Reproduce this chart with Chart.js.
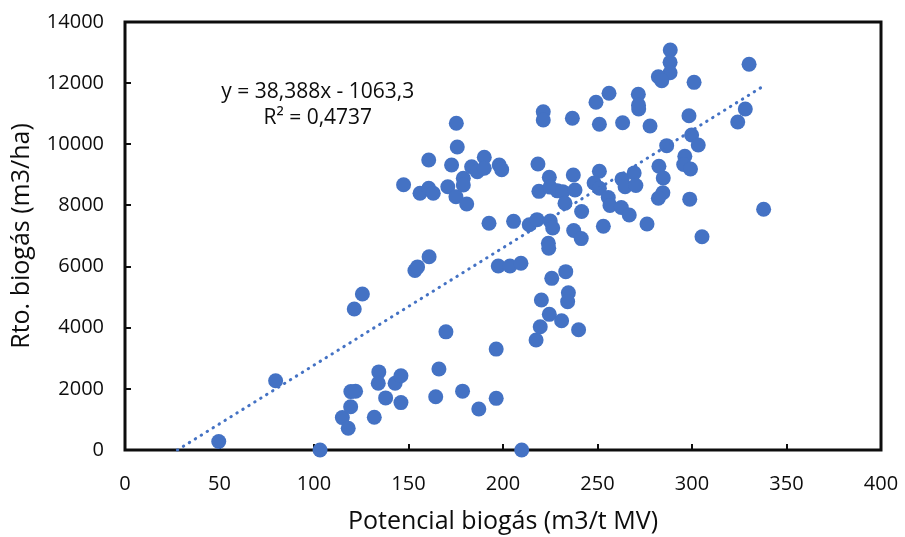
<!DOCTYPE html>
<html>
<head>
<meta charset="utf-8">
<script src="https://cdn.jsdelivr.net/npm/chart.js@4/dist/chart.umd.min.js"></script>
<style>
  html, body { margin: 0; padding: 0; background: #fff; }
  #wrap { width: 905px; height: 537px; }
</style>
</head>
<body>
<div id="wrap"><canvas id="c" width="905" height="537"></canvas></div>
<script>
// Potencial biogás (m3/t MV)
const potencialBiogas = [
  49.6, 79.7, 103.2, 209.9, 121.3, 125.6, 115.0, 118.1, 119.4, 119.5,
  122.0, 131.9, 134.3, 134.0, 137.9, 142.9, 146.0, 146.0, 164.4, 166.1,
  169.8, 178.6, 187.2, 196.4, 196.4, 153.4, 154.8, 160.9, 197.5, 203.7,
  209.5, 217.5, 219.7, 220.3, 224.5, 231.0, 233.2, 225.8, 234.6, 234.2,
  240.0, 224.0, 224.2, 237.4, 241.4, 253.1, 175.3, 175.8, 160.7, 172.8,
  147.4, 156.1, 160.7, 163.1, 170.8, 175.1, 180.8, 179.0, 179.0, 183.4,
  186.4, 190.1, 190.1, 198.0, 199.3, 192.6, 205.6, 213.9, 218.0, 221.3,
  221.3, 236.7, 218.5, 224.5, 237.2, 219.0, 224.9, 228.8, 231.6, 232.8,
  238.1, 225.0, 226.3, 241.6, 288.5, 288.4, 288.4, 282.2, 284.0, 301.1,
  330.2, 256.1, 249.2, 271.6, 271.8, 251.0, 263.3, 277.8, 298.4, 328.2,
  324.2, 299.8, 303.3, 286.6, 296.2, 295.6, 299.2, 282.5, 284.8, 284.6,
  282.2, 298.8, 251.0, 248.2, 251.0, 263.0, 269.4, 264.6, 270.3, 255.7,
  256.6, 262.6, 266.8, 276.2, 305.3, 337.9, 271.7
];

// Rto. biogás (m3/ha)
const rtoBiogas = [
  280, 2265, 0, 0, 4612, 5104, 1060, 710, 1415, 1910,
  1920, 1070, 2555, 2185, 1705, 2185, 2430, 1550, 1740, 2650,
  3865, 1925, 1341, 3300, 1690, 5870, 5990, 6320, 6018, 6018,
  6107, 3598, 4033, 4907, 4438, 4230, 5833, 5615, 5146, 4852,
  3935, 6760, 6597, 7180, 6915, 7320, 10686, 9911, 9486, 9322,
  8678, 8397, 8560, 8397, 8613, 8286, 8047, 8887, 8668, 9267,
  9103, 9575, 9214, 9322, 9170, 7415, 7480, 7370, 7535, 11066,
  10794, 10850, 9355, 8920, 8995, 8460, 8600, 8477, 8450, 8070,
  8505, 7490, 7262, 7800, 13084, 12681, 12342, 12211, 12080, 12026,
  12616, 11668, 11373, 11635, 11154, 10654, 10706, 10598, 10935, 11154,
  10729, 10304, 9977, 9955, 9610, 9340, 9190, 9280, 8897, 8416,
  8233, 8205, 9120, 8734, 8560, 8860, 9060, 8613, 8650, 8260,
  8000, 7930, 7687, 7393, 6977, 7873, 11280
];

// Linear trend: y = 38,388x - 1063,3  (R² = 0,4737)
const trendSlope = 38.388;
const trendIntercept = -1063.3;
const trendLabels = ['y = 38,388x - 1063,3', 'R\u00B2 = 0,4737'];

const xTickValues = [0, 50, 100, 150, 200, 250, 300, 350, 400];
const yTickValues = [0, 2000, 4000, 6000, 8000, 10000, 12000, 14000];

const points = potencialBiogas.map((x, i) => ({ x: x, y: rtoBiogas[i] }));
const trendStartX = -trendIntercept / trendSlope;
const trendEndX = Math.max(...potencialBiogas);
const trendPoints = [trendStartX, trendEndX].map(x => ({ x: x, y: trendSlope * x + trendIntercept }));

const FONT = "'Open Sans', 'Noto Sans', sans-serif";
const BLUE = '#4472C4';
const INK = '#0d0d0d';

// Plot frame with inward tick marks, drawn beneath the markers
const framePlugin = {
  id: 'frame',
  beforeDatasetsDraw(chart) {
    const { ctx, chartArea: a, scales: { x, y } } = chart;
    ctx.save();
    ctx.strokeStyle = INK;
    ctx.lineWidth = 2;
    ctx.beginPath();
    xTickValues.forEach(v => {
      const px = Math.round(x.getPixelForValue(v));
      ctx.moveTo(px, a.bottom);
      ctx.lineTo(px, a.bottom - 6);
    });
    yTickValues.forEach(v => {
      const py = Math.round(y.getPixelForValue(v));
      ctx.moveTo(a.left, py);
      ctx.lineTo(a.left + 6, py);
    });
    ctx.stroke();
    ctx.lineWidth = 3;
    ctx.strokeRect(a.left, a.top, a.right - a.left, a.bottom - a.top);
    ctx.restore();
  }
};

// Trend-line equation and R² text
const equationPlugin = {
  id: 'equation',
  afterDatasetsDraw(chart) {
    const { ctx, scales: { x, y } } = chart;
    const cx = x.getPixelForValue(102);
    ctx.save();
    ctx.fillStyle = INK;
    ctx.font = "21px " + FONT;
    ctx.textAlign = 'center';
    ctx.textBaseline = 'middle';
    ctx.fillText(trendLabels[0], cx, y.getPixelForValue(11700));
    ctx.fillText(trendLabels[1], cx, y.getPixelForValue(10850));
    ctx.restore();
  }
};

const plainNumber = v => String(v);

new Chart(document.getElementById('c'), {
  type: 'scatter',
  data: {
    datasets: [
      {
        type: 'line',
        data: trendPoints,
        borderColor: BLUE,
        borderWidth: 3,
        borderDash: [0.5, 6.5],
        borderCapStyle: 'round',
        pointRadius: 0,
        fill: false,
        clip: false,
        order: 0
      },
      {
        data: points,
        backgroundColor: BLUE,
        borderColor: BLUE,
        borderWidth: 0,
        pointRadius: 7.5,
        pointHoverRadius: 7.5,
        clip: false,
        order: 1
      }
    ]
  },
  options: {
    responsive: false,
    animation: false,
    events: [],
    layout: { padding: { top: 22, right: 24, left: 0, bottom: 0 } },
    plugins: { legend: { display: false }, tooltip: { enabled: false } },
    scales: {
      x: {
        type: 'linear',
        min: 0, max: 400,
        grid: { display: false, drawTicks: false },
        border: { display: false },
        ticks: { stepSize: 50, padding: 22, color: INK, font: { family: FONT, size: 20 }, callback: plainNumber },
        title: {
          display: true, text: 'Potencial biogás (m3/t MV)', color: INK,
          font: { family: FONT, size: 25 }, padding: { top: 0, bottom: 0 }
        },
        afterFit(s) { s.height = 87; s.paddingLeft = 0; s.paddingRight = 0; }
      },
      y: {
        type: 'linear',
        min: 0, max: 14000,
        grid: { display: false, drawTicks: false },
        border: { display: false },
        ticks: { stepSize: 2000, padding: 21, color: INK, font: { family: FONT, size: 20 }, callback: plainNumber },
        title: {
          display: true, text: 'Rto. biogás (m3/ha)', color: INK,
          font: { family: FONT, size: 25 }, padding: { top: 7, bottom: 0 }
        },
        afterFit(s) { s.width = 125; s.paddingTop = 0; s.paddingBottom = 0; }
      }
    }
  },
  plugins: [framePlugin, equationPlugin]
});
</script>
</body>
</html>
